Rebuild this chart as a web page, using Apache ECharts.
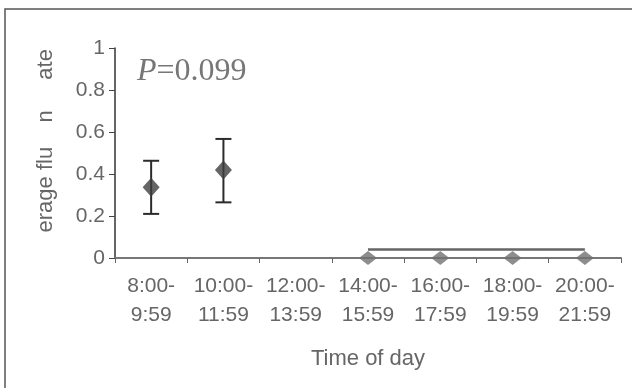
<!DOCTYPE html>
<html>
<head>
<meta charset="utf-8">
<script src="https://cdn.jsdelivr.net/npm/echarts@6/dist/echarts.min.js"></script>
<style>
  html, body { margin: 0; padding: 0; background: #fff; }
  #chart { width: 632px; height: 388px; }
</style>
</head>
<body>
<div id="chart"></div>
<script>
const timeSlots = ['8:00-\n9:59', '10:00-\n11:59', '12:00-\n13:59', '14:00-\n15:59', '16:00-\n17:59', '18:00-\n19:59', '20:00-\n21:59'];
const meanRate = [0.337, 0.419, '-', '-', '-', '-', '-'];
const zeroRate = ['-', '-', '-', 0, 0, 0, 0];
const errLow = [0.21, 0.265, null, null, null, null, null];
const errHigh = [0.463, 0.567, null, null, null, null, null];
const flatLine = ['-', '-', '-', 0.04, 0.04, 0.04, 0.04];
const yTicks = [0, 0.2, 0.4, 0.6, 0.8, 1];

const errData = [];
errLow.forEach((lo, i) => {
  if (lo !== null) errData.push([i, lo, errHigh[i]]);
});

const myChart = echarts.init(document.getElementById('chart'), null, { renderer: 'canvas' });

const labelFont = 'Liberation Sans, Arial, sans-serif';

const option = {
  animation: false,
  backgroundColor: '#fff',
  grid: { left: 115, right: 11, top: 48, bottom: 130 },
  graphic: [
    {
      type: 'rect',
      shape: { x: 5, y: 9, width: 700, height: 500 },
      style: { fill: 'none', stroke: '#555', lineWidth: 1.5 },
      silent: true
    },
    {
      type: 'text',
      left: 137,
      top: 56,
      style: {
        text: '{p|P}{v|=0.099}',
        rich: {
          p: { font: 'italic 32px "Liberation Serif", "Times New Roman", serif', fill: '#777' },
          v: { font: '32px "Liberation Serif", "Times New Roman", serif', fill: '#777' }
        }
      }
    }
  ],
  xAxis: {
    type: 'category',
    data: timeSlots,
    boundaryGap: true,
    name: 'Time of day',
    nameLocation: 'middle',
    nameGap: 90,
    nameTextStyle: { fontFamily: labelFont, fontSize: 22, color: '#666' },
    axisLine: { lineStyle: { color: '#777', width: 2 } },
    axisTick: { show: true, length: 5, lineStyle: { color: '#666' } },
    axisLabel: {
      fontFamily: labelFont,
      fontSize: 21,
      color: '#666',
      lineHeight: 29,
      margin: 14,
      interval: 0
    },
    splitLine: { show: false }
  },
  yAxis: {
    type: 'value',
    min: 0,
    max: 1,
    interval: 0.2,
    name: '    erage flu    n     ate',
    nameLocation: 'middle',
    nameRotate: 90,
    nameGap: 58,
    nameTextStyle: { fontFamily: labelFont, fontSize: 22, color: '#666' },
    axisLine: { show: true, lineStyle: { color: '#333', width: 1.5 } },
    axisTick: { show: true, length: 6, lineStyle: { color: '#444' } },
    axisLabel: {
      fontFamily: labelFont,
      fontSize: 21,
      color: '#666',
      margin: 10,
      formatter: (v) => (yTicks.includes(+v.toFixed(1)) ? String(+v.toFixed(1)) : '')
    },
    splitLine: { show: false }
  },
  series: [
    {
      type: 'line',
      data: flatLine,
      symbol: 'none',
      lineStyle: { color: '#666', width: 2.5 },
      z: 2
    },
    {
      type: 'custom',
      data: errData,
      renderItem: (params, api) => {
        const x = api.value(0);
        const top = api.coord([x, api.value(2)]);
        const bot = api.coord([x, api.value(1)]);
        const half = 8;
        const style = { stroke: '#2b2b2b', lineWidth: 2 };
        return {
          type: 'group',
          children: [
            { type: 'line', shape: { x1: top[0], y1: top[1], x2: bot[0], y2: bot[1] }, style },
            { type: 'line', shape: { x1: top[0] - half, y1: top[1], x2: top[0] + half, y2: top[1] }, style },
            { type: 'line', shape: { x1: bot[0] - half, y1: bot[1], x2: bot[0] + half, y2: bot[1] }, style }
          ]
        };
      },
      z: 3
    },
    {
      type: 'scatter',
      data: meanRate,
      symbol: 'diamond',
      symbolSize: [17, 19],
      itemStyle: { color: '#3f3f3f' },
      z: 4
    },
    {
      type: 'scatter',
      data: zeroRate,
      symbol: 'diamond',
      symbolSize: [18, 14],
      itemStyle: { color: '#707070' },
      z: 4
    }
  ]
};

if (option && typeof option === 'object') {
  myChart.setOption(option);
}
window.addEventListener('resize', myChart.resize);
</script>
</body>
</html>
